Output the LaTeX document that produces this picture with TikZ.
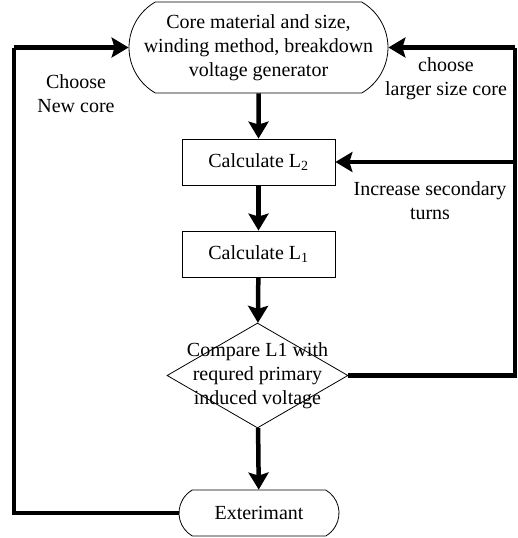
\documentclass[tikz,border=0pt]{standalone}
\usepackage{fontspec}
\setmainfont{Liberation Serif}
\usetikzlibrary{shapes.geometric,shapes.misc,arrows.meta}
\begin{document}
\begin{tikzpicture}[x=1pt,y=1pt,
  every node/.style={font=\fontsize{20}{24}\selectfont, inner sep=0pt, align=center},
  term/.style={draw, line width=0.8pt, rounded rectangle, rounded rectangle arc length=120},
  procbox/.style={draw, line width=0.8pt, rectangle, minimum width=153pt, minimum height=46pt},
  decide/.style={draw, line width=0.8pt, diamond, minimum width=181pt, minimum height=105pt},
  flow/.style={line width=4.5pt, -{Stealth[length=17pt,width=20pt,inset=3pt]}},
  loopline/.style={line width=4.5pt}]
\useasboundingbox (0,0) rectangle (518,-538);
\node[term, minimum width=259pt, minimum height=91pt] (top) at (258.5,-47.5)
  {Core material and size,\\winding method, breakdown\\voltage generator};
\node[procbox] (l2) at (258.5,-162) {Calculate L\textsubscript{2}};
\node[procbox] (l1) at (258.5,-254) {Calculate L\textsubscript{1}};
\node[decide] (d) at (257.5,-375.5) {};
\node (dtext) at (257.5,-376) {Compare L1 with\\requred primary\\induced voltage};
\node[term, minimum width=160pt, minimum height=46pt] (exp) at (259,-513) {Exterimant};
\coordinate (lx) at (14,0);
\coordinate (rx) at (515,0);
\draw[flow] (top) -- (l2);
\draw[flow] (l2) -- (l1);
\draw[flow] (l1) -- (d);
\draw[flow] (d) -- (exp);
\draw[loopline, line join=miter] (exp.west) -- (lx |- exp.west) -- (lx |- top.west);
\draw[flow] (lx |- top.west) -- (top.west);
\draw[loopline, line join=miter] (d.east) -- (rx |- d.east) -- (rx |- top.east);
\draw[flow] (rx |- top.east) -- (top.east);
\draw[flow] (rx |- l2.east) -- (l2.east);
\node (lab1) at (76,-93.5) {Choose\\New core};
\node (lab2) at (446,-78.5) {choose\\larger size core};
\node (lab3) at (430,-201) {Increase secondary\\turns};
\end{tikzpicture}
\end{document}
